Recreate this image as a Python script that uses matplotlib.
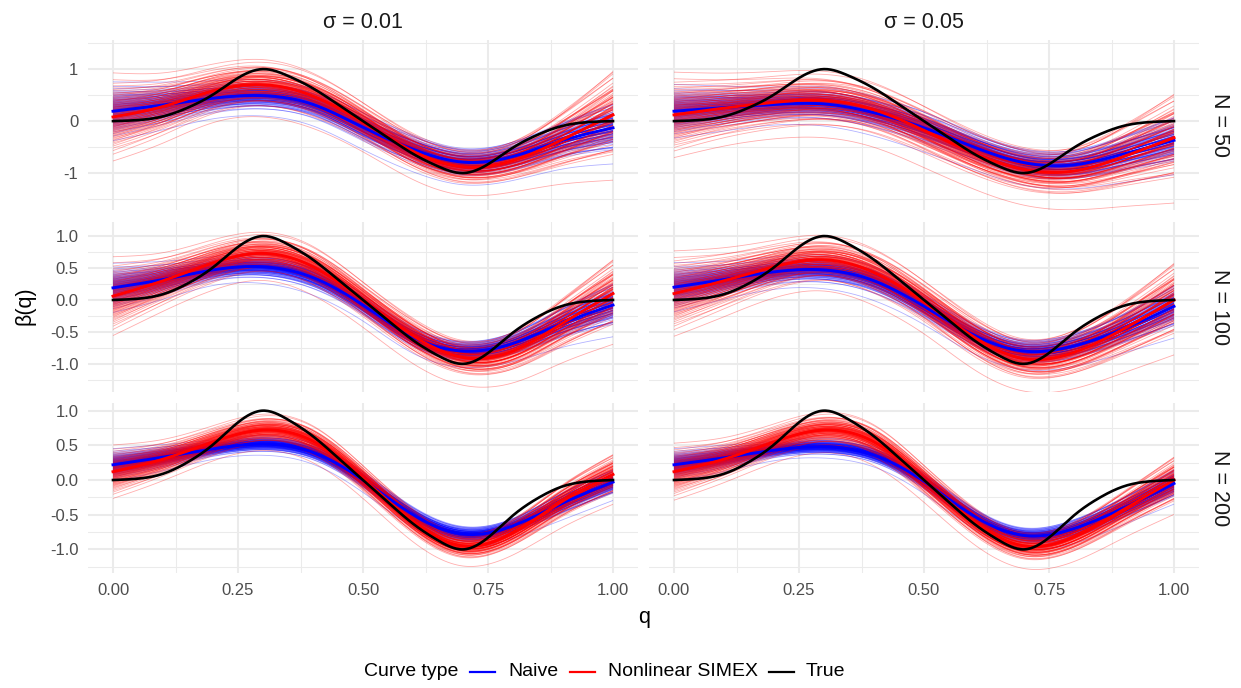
import numpy as np
import matplotlib
matplotlib.use("Agg")
import matplotlib.pyplot as plt
from matplotlib.collections import LineCollection
from matplotlib.lines import Line2D

plt.rcParams['font.family'] = ['Liberation Sans', 'DejaVu Sans']
plt.rcParams['axes.unicode_minus'] = False

# ---------------- data ----------------
q_knots = [0.0, 0.1, 0.2, 0.3, 0.4, 0.5, 0.6, 0.7, 0.8, 0.9, 1.0]

q_true = [0.00, 0.05, 0.10, 0.15, 0.20, 0.25, 0.30, 0.35, 0.40, 0.45, 0.50,
          0.55, 0.60, 0.65, 0.70, 0.75, 0.80, 0.85, 0.90, 0.95, 1.00]
beta_true = [0.00, 0.02, 0.09, 0.26, 0.51, 0.83, 1.00, 0.87, 0.63, 0.32, 0.00,
             -0.32, -0.63, -0.87, -1.00, -0.83, -0.51, -0.26, -0.09, -0.02, 0.00]

sigma_labels = ["σ = 0.01", "σ = 0.05"]
n_labels = ["N = 50", "N = 100", "N = 200"]
curve_types = ["Naive", "Nonlinear SIMEX", "True"]
n_replicates = 100

# mean curves at q_knots
naive_s01_n50 = [0.19, 0.31, 0.44, 0.49, 0.32, -0.12, -0.54, -0.79, -0.68, -0.37, -0.13]
simex_s01_n50 = [0.08, 0.28, 0.58, 0.70, 0.48, -0.02, -0.58, -0.88, -0.76, -0.35, 0.12]
naive_s05_n50 = [0.19, 0.26, 0.32, 0.33, 0.16, -0.13, -0.50, -0.80, -0.84, -0.63, -0.37]
simex_s05_n50 = [0.12, 0.25, 0.36, 0.40, 0.22, -0.18, -0.62, -0.93, -0.96, -0.68, -0.32]
naive_s01_n100 = [0.19, 0.32, 0.47, 0.52, 0.35, -0.08, -0.58, -0.80, -0.68, -0.36, -0.08]
simex_s01_n100 = [0.06, 0.30, 0.58, 0.73, 0.52, 0.00, -0.56, -0.90, -0.80, -0.36, 0.10]
naive_s05_n100 = [0.20, 0.32, 0.44, 0.47, 0.30, -0.10, -0.55, -0.80, -0.72, -0.45, -0.10]
simex_s05_n100 = [0.10, 0.30, 0.52, 0.63, 0.43, -0.03, -0.58, -0.92, -0.82, -0.45, 0.00]
naive_s01_n200 = [0.22, 0.33, 0.45, 0.52, 0.40, 0.00, -0.50, -0.78, -0.66, -0.33, -0.03]
simex_s01_n200 = [0.12, 0.30, 0.55, 0.72, 0.56, 0.02, -0.60, -0.95, -0.76, -0.30, 0.08]
naive_s05_n200 = [0.22, 0.32, 0.43, 0.48, 0.36, -0.02, -0.52, -0.80, -0.70, -0.40, -0.05]
simex_s05_n200 = [0.12, 0.30, 0.55, 0.72, 0.55, 0.00, -0.60, -0.95, -0.82, -0.42, 0.00]

# spread (sd) of the replicate curves at q_knots
naive_sd_s01_n50 = [0.22, 0.17, 0.13, 0.12, 0.12, 0.12, 0.12, 0.12, 0.13, 0.16, 0.21]
simex_sd_s01_n50 = [0.33, 0.25, 0.20, 0.19, 0.18, 0.16, 0.15, 0.15, 0.17, 0.25, 0.38]
naive_sd_s05_n50 = [0.20, 0.16, 0.13, 0.13, 0.13, 0.13, 0.12, 0.12, 0.13, 0.16, 0.20]
simex_sd_s05_n50 = [0.32, 0.26, 0.23, 0.22, 0.21, 0.20, 0.19, 0.19, 0.21, 0.28, 0.38]
naive_sd_s01_n100 = [0.15, 0.11, 0.08, 0.08, 0.08, 0.07, 0.07, 0.07, 0.08, 0.11, 0.15]
simex_sd_s01_n100 = [0.24, 0.17, 0.14, 0.13, 0.13, 0.12, 0.12, 0.12, 0.14, 0.18, 0.24]
naive_sd_s05_n100 = [0.15, 0.11, 0.09, 0.09, 0.09, 0.08, 0.08, 0.08, 0.09, 0.11, 0.15]
simex_sd_s05_n100 = [0.26, 0.20, 0.16, 0.15, 0.15, 0.14, 0.14, 0.14, 0.16, 0.20, 0.26]
naive_sd_s01_n200 = [0.09, 0.07, 0.05, 0.05, 0.05, 0.05, 0.05, 0.05, 0.05, 0.07, 0.08]
simex_sd_s01_n200 = [0.15, 0.11, 0.09, 0.09, 0.09, 0.08, 0.08, 0.08, 0.09, 0.11, 0.13]
naive_sd_s05_n200 = [0.09, 0.07, 0.05, 0.05, 0.05, 0.05, 0.05, 0.05, 0.06, 0.07, 0.09]
simex_sd_s05_n200 = [0.16, 0.12, 0.10, 0.10, 0.10, 0.09, 0.09, 0.09, 0.10, 0.12, 0.15]

panels = {
    (0, 0): (naive_s01_n50, naive_sd_s01_n50, simex_s01_n50, simex_sd_s01_n50),
    (0, 1): (naive_s05_n50, naive_sd_s05_n50, simex_s05_n50, simex_sd_s05_n50),
    (1, 0): (naive_s01_n100, naive_sd_s01_n100, simex_s01_n100, simex_sd_s01_n100),
    (1, 1): (naive_s05_n100, naive_sd_s05_n100, simex_s05_n100, simex_sd_s05_n100),
    (2, 0): (naive_s01_n200, naive_sd_s01_n200, simex_s01_n200, simex_sd_s01_n200),
    (2, 1): (naive_s05_n200, naive_sd_s05_n200, simex_s05_n200, simex_sd_s05_n200),
}

# ---------------- helpers ----------------
def spline(xk, yk, xs):
    xk = np.asarray(xk, float); yk = np.asarray(yk, float)
    n = len(xk); h = np.diff(xk)
    A = np.zeros((n, n)); r = np.zeros(n)
    A[0, 0] = 1; A[-1, -1] = 1
    for i in range(1, n - 1):
        A[i, i - 1] = h[i - 1]; A[i, i] = 2 * (h[i - 1] + h[i]); A[i, i + 1] = h[i]
        r[i] = 3 * ((yk[i + 1] - yk[i]) / h[i] - (yk[i] - yk[i - 1]) / h[i - 1])
    c = np.linalg.solve(A, r)
    b = (yk[1:] - yk[:-1]) / h - h * (2 * c[:-1] + c[1:]) / 3
    d = (c[1:] - c[:-1]) / (3 * h)
    idx = np.clip(np.searchsorted(xk, xs) - 1, 0, n - 2)
    dx = xs - xk[idx]
    return yk[idx] + b[idx] * dx + c[idx] * dx ** 2 + d[idx] * dx ** 3

def quantile_scores(n):
    p = (np.arange(n) + 0.5) / n
    return 4.91 * (p ** 0.14 - (1 - p) ** 0.14)

qs = np.linspace(0, 1, 201)
zA = quantile_scores(n_replicates)
zP = zA[(np.arange(n_replicates) * 37) % n_replicates]
rho = 0.35
zB = rho * zA + np.sqrt(1 - rho ** 2) * zP
norm = np.sqrt((1 - qs) ** 2 + qs ** 2 + 2 * rho * qs * (1 - qs))

def replicate_curves(mean, sd, shift):
    m = spline(q_knots, mean, qs)
    s = spline(q_knots, sd, qs)
    zs = np.roll(zA, shift); ze = np.roll(zB, shift)
    segs = []
    for a, b in zip(zs, ze):
        z = (a * (1 - qs) + b * qs) / norm
        segs.append(np.column_stack([qs, m + s * z]))
    return m, segs

# ---------------- layout ----------------
W, H = 1241, 688
fig = plt.figure(figsize=(W / 100, H / 100), dpi=100)
rows_px = [(40, 210), (222, 392), (403, 573)]
cols_px = [(88, 638), (649, 1199)]
ylims = [(-1.71, 1.56), (-1.44, 1.22), (-1.34, 1.11)]
GRID = "#EBEBEB"

q_fine = np.linspace(0, 1, 301)
true_fine = spline(q_true, beta_true, q_fine)

for r in range(3):
    for c in range(2):
        x0, x1 = cols_px[c]; y0, y1 = rows_px[r]
        ax = fig.add_axes([x0 / W, 1 - y1 / H, (x1 - x0) / W, (y1 - y0) / H])
        for s in ax.spines.values():
            s.set_visible(False)
        ax.set_xlim(-0.05, 1.05)
        ax.set_ylim(*ylims[r])
        ax.set_xticks([0, 0.25, 0.5, 0.75, 1.0])
        ax.set_xticks([0.125, 0.375, 0.625, 0.875], minor=True)
        if r == 0:
            ax.set_yticks([-1, 0, 1])
            ax.set_yticks([-1.5, -0.5, 0.5, 1.5], minor=True)
            ylabels = ["-1", "0", "1"]
        else:
            ax.set_yticks([-1, -0.5, 0, 0.5, 1])
            ax.set_yticks([-1.25, -0.75, -0.25, 0.25, 0.75], minor=True)
            ylabels = ["-1.0", "-0.5", "0.0", "0.5", "1.0"]
        ax.grid(True, which="major", color=GRID, lw=1.45)
        ax.grid(True, which="minor", color=GRID, lw=0.75)
        ax.set_axisbelow(True)
        ax.tick_params(which="both", length=0, labelsize=12, colors="#4D4D4D", pad=7)
        if c == 0:
            ax.set_yticklabels(ylabels)
        else:
            ax.set_yticklabels([])
        if r == 2:
            ax.set_xticklabels(["0.00", "0.25", "0.50", "0.75", "1.00"])
        else:
            ax.set_xticklabels([])

        nm, nsd, sm, ssd = panels[(r, c)]
        m_naive, seg_naive = replicate_curves(nm, nsd, 0)
        m_simex, seg_simex = replicate_curves(sm, ssd, 13)
        ax.add_collection(LineCollection(seg_naive, colors="#0000FF", alpha=0.3, linewidths=0.6))
        ax.add_collection(LineCollection(seg_simex, colors="#FF0000", alpha=0.32, linewidths=0.6))
        ax.plot(qs, m_naive, color="#0000FF", lw=2.1)
        ax.plot(qs, m_simex, color="#FF0000", lw=2.1)
        ax.plot(q_fine, true_fine, color="black", lw=1.9)

# strip labels
for c in range(2):
    x0, x1 = cols_px[c]
    fig.text((x0 + x1) / 2 / W, 1 - 22 / H, sigma_labels[c], ha="center", va="center",
             fontsize=15.5, color="#1A1A1A")
for r in range(3):
    y0, y1 = rows_px[r]
    fig.text(1220 / W, 1 - (y0 + y1) / 2 / H, n_labels[r], ha="center", va="center",
             rotation=270, fontsize=15.5, color="#1A1A1A")

# axis titles
fig.text(644 / W, 1 - 617 / H, "q", ha="center", va="center", fontsize=15.5)
fig.text(25 / W, 1 - 306 / H, "β(q)", ha="center", va="center", rotation=90, fontsize=15.5)

# legend
ly = 1 - 672 / H
fig.text(364 / W, ly, "Curve type", ha="left", va="center", fontsize=14)
legend_items = [(470, 508, "#0000FF", curve_types[0]),
                (570, 608, "#FF0000", curve_types[1]),
                (769, 806, "black", curve_types[2])]
for kx, tx, col, lab in legend_items:
    fig.add_artist(Line2D([kx / W, (kx + 25) / W], [ly, ly], transform=fig.transFigure,
                          color=col, lw=1.6))
    fig.text(tx / W, ly, lab, ha="left", va="center", fontsize=14)

fig.savefig("out.png", dpi=100, facecolor="white")
